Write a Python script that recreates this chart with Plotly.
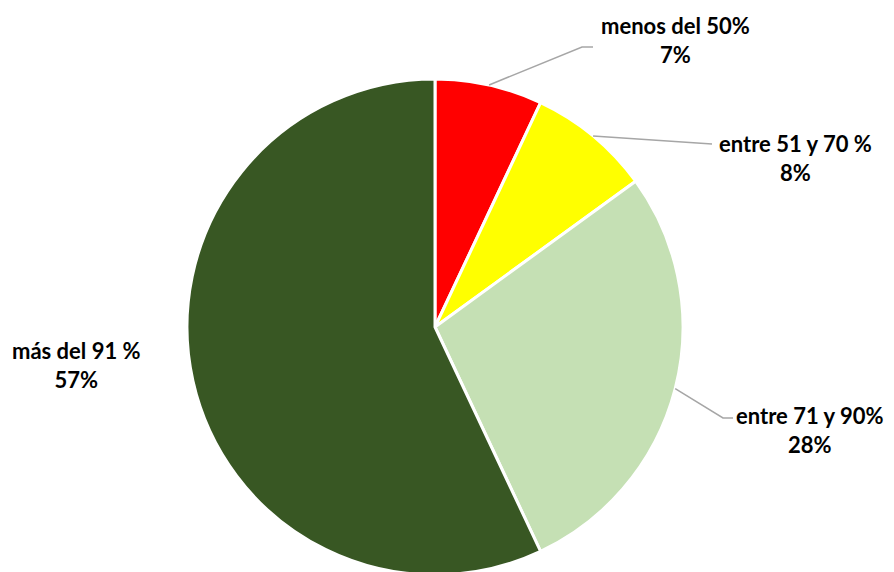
import math
import plotly.graph_objects as go

categories = ["menos del 50%", "entre 51 y 70 %", "entre 71 y 90%", "más del 91 %"]
values = [7, 8, 28, 57]
colors = ["#FF0000", "#FFFF00", "#C5E0B4", "#385723"]

OFF = 8  # page body margin offset in the browser
W, H = 894 - OFF, 572
# pie geometry in screen pixels (center and radius)
CX, CY, R = 435, 327, 248

# label positions (screen pixel coordinates of text centers) and elbow points
label_pos = [(675, 40), (795, 158), (809, 430), (76, 365)]
elbows = [[(582, 47), (593, 47)], [(712, 144)], [(723, 418), (733, 418)], None]


def px(x):
    return (x - OFF) / W


def py(y):
    return 1 - (y - OFF) / H


fig = go.Figure(go.Pie(
    labels=categories,
    values=values,
    sort=False,
    direction="clockwise",
    rotation=0,
    textinfo="none",
    marker=dict(colors=colors, line=dict(color="white", width=3)),
    domain=dict(x=[px(CX - R), px(CX + R)], y=[max(0, py(CY + R)), py(CY - R)]),
    showlegend=False,
))

total = sum(values)
cum = 0
shapes = []
annotations = []
for i, (cat, v) in enumerate(zip(categories, values)):
    mid = (cum + v / 2) / total * 2 * math.pi
    cum += v
    pct = round(v / total * 100)
    lx, ly = label_pos[i]
    annotations.append(dict(
        x=px(lx), y=py(ly), xref="paper", yref="paper",
        text=f"<b>{cat}</b><br><b>{pct}%</b>", showarrow=False,
        font=dict(family="Lato", size=22, color="black"),
        align="center", xanchor="center", yanchor="middle",
    ))
    if elbows[i]:
        sx = CX + R * math.sin(mid)
        sy = CY - R * math.cos(mid)
        pts = [(sx, sy)] + elbows[i]
        path = "M " + " L ".join(f"{px(x)},{py(y)}" for x, y in pts)
        shapes.append(dict(type="path", path=path, xref="paper", yref="paper",
                           line=dict(color="#A6A6A6", width=1.5)))

fig.update_layout(
    width=W, height=H,
    margin=dict(l=0, r=0, t=0, b=0),
    paper_bgcolor="white", plot_bgcolor="white",
    shapes=shapes, annotations=annotations,
)
fig.write_html("out.html")
